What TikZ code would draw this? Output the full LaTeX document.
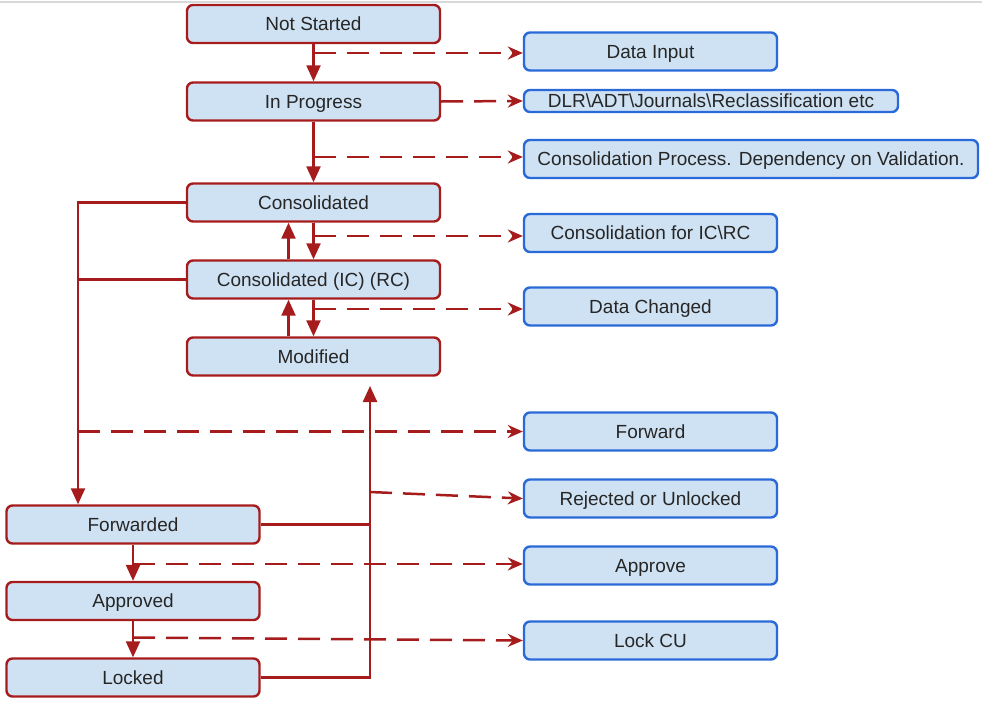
\documentclass[tikz,border=0pt]{standalone}
\usepackage{fontspec}
\setmainfont{Liberation Sans}
\usetikzlibrary{arrows.meta,calc}
\definecolor{boxred}{HTML}{A61C1C}
\definecolor{boxblue}{HTML}{2A6AD8}
\definecolor{boxfill}{HTML}{CFE2F3}
\definecolor{txt}{HTML}{262626}
\begin{document}
\begin{tikzpicture}[x=1pt,y=-1pt,
 statebox/.style={draw=boxred, line width=2.4pt, fill=boxfill, rounded corners=6pt,
   minimum width=253pt, minimum height=38pt, inner sep=0pt, text=txt,
   text height=13.6pt, text depth=0pt,
   font=\fontsize{19}{22}\selectfont},
 notebox/.style={statebox, draw=boxblue},
 flow/.style={draw=boxred, line width=2.3pt, -{Triangle[length=16pt,width=14pt]}},
 link/.style={draw=boxred, line width=2.3pt},
 note/.style={draw=boxred, line width=2.5pt, dash pattern=on 22pt off 11pt,
   -{Stealth[length=15pt,width=13pt,inset=5pt]}}
]
\useasboundingbox (0,0) rectangle (982,707);
\draw[gray!30, line width=1.5pt] (0,2) -- (982,2);

% state boxes
\node[statebox] (ns) at (313.5,24) {Not Started};
\node[statebox] (ip) at (313.5,101.5) {In Progress};
\node[statebox] (co) at (313.5,202.5) {Consolidated};
\node[statebox] (ci) at (313.5,279.5) {Consolidated (IC) (RC)};
\node[statebox] (mo) at (313.5,356.5) {Modified};
\node[statebox] (fw) at (133,524.5) {Forwarded};
\node[statebox] (ap) at (133,601) {Approved};
\node[statebox] (lo) at (133,677.5) {Locked};

% note boxes
\node[notebox] (di) at (650.5,51.5) {Data Input};
\node[notebox, minimum width=374pt, minimum height=22pt] (dlr) at (711,101) {DLR\textbackslash ADT\textbackslash Journals\textbackslash Reclassification etc};
\node[notebox, minimum width=454pt] (cp) at (751,159) {Consolidation Process. Dependency on Validation.};
\node[notebox] (cic) at (650.5,233) {Consolidation for IC\textbackslash RC};
\node[notebox] (dc) at (650.5,306.5) {Data Changed};
\node[notebox] (fwd) at (650.5,431.5) {Forward};
\node[notebox] (ru) at (650.5,498.5) {Rejected or Unlocked};
\node[notebox] (apv) at (650.5,565.5) {Approve};
\node[notebox] (lcu) at (650.5,640.5) {Lock CU};

% junction coordinates
\coordinate (j1) at (313.5,53);
\coordinate (j2) at (313.5,157);
\coordinate (j3) at (313.5,236);
\coordinate (j4) at (313.5,309);
\coordinate (trunk) at ([xshift=-55pt]fw.north);
\coordinate (rt) at (370,386);
\coordinate (j6) at (370,492);
\coordinate (j7) at (133,564);
\coordinate (j8) at (133,637.5);

% main flow
\draw[flow] (ns) -- (ip);
\draw[flow] (ip) -- (co);
\draw[flow] (co) -- (ci);
\draw[flow] ([xshift=-25pt]ci.north) -- ([xshift=-25pt]co.south);
\draw[flow] (ci) -- (mo);
\draw[flow] ([xshift=-25pt]mo.north) -- ([xshift=-25pt]ci.south);
\draw[flow] (co.west) -| (trunk);
\draw[link] (ci.west) -- (ci.west -| trunk);
\draw[link] (fw.east) -- (fw.east -| rt);
\draw[flow] (lo.east) -| (rt);
\draw[flow] (fw) -- (ap);
\draw[flow] (ap) -- (lo);

% dashed notes
\draw[note] (j1) -- (j1 -| di.west);
\draw[note] (ip.east) -- (dlr.west);
\draw[note] (j2) -- (j2 -| cp.west);
\draw[note] (j3) -- (j3 -| cic.west);
\draw[note] (j4) -- (j4 -| dc.west);
\draw[note] (trunk |- fwd.west) -- (fwd.west);
\draw[note] (j6) -- (ru.west);
\draw[note] (j7) -- (j7 -| apv.west);
\draw[note] (j8) -- (lcu.west);
\end{tikzpicture}
\end{document}
